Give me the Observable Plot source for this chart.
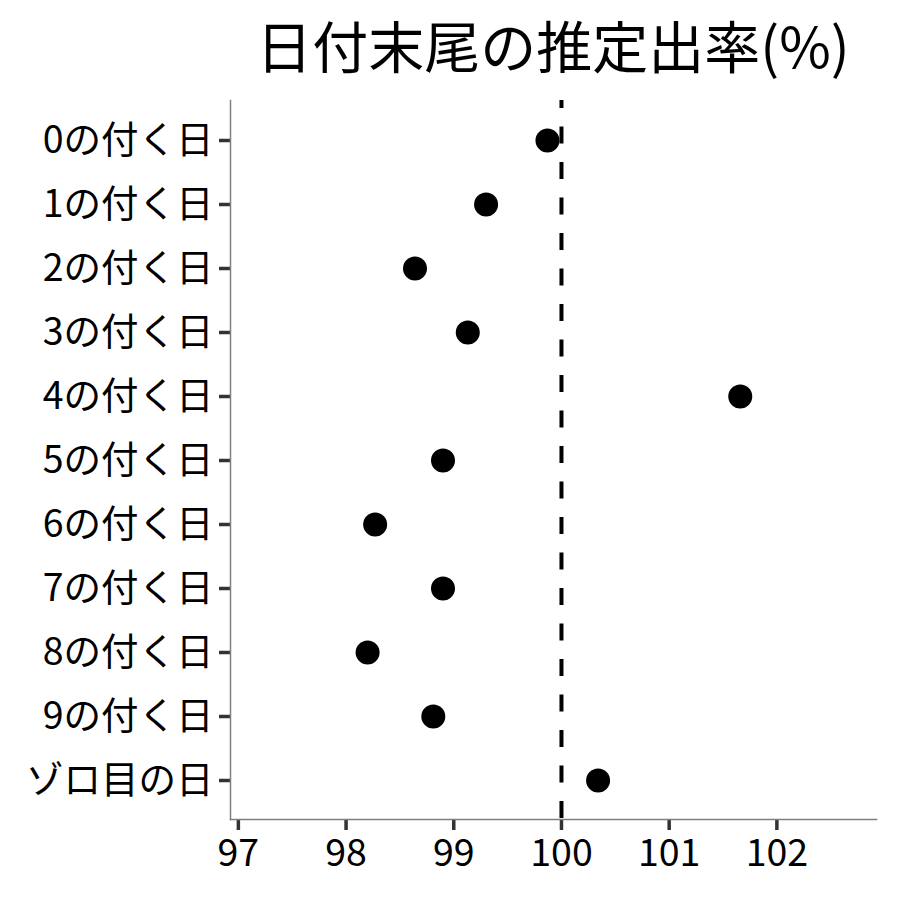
<!DOCTYPE html>
<html>
<head>
<meta charset="utf-8">
<script src="https://cdn.jsdelivr.net/npm/d3@7"></script>
<script src="https://cdn.jsdelivr.net/npm/@observablehq/plot@0.6"></script>
<style>
  html, body { margin: 0; padding: 0; background: #fff; }
  #wrap { width: 900px; height: 900px; position: relative; font-family: "Noto Sans CJK JP", sans-serif; }
  #title { position: absolute; left: 230px; width: 646px; top: 0; height: 90px; text-align: center;
           font-size: 56px; line-height: 88px; color: #000; white-space: nowrap; }
  #chart { position: absolute; left: 0; top: 90px; }
</style>
</head>
<body>
<div id="wrap">
  <div id="title">日付末尾の推定出率(%)</div>
  <div id="chart"></div>
</div>
<script>
const categories = ["0の付く日","1の付く日","2の付く日","3の付く日","4の付く日","5の付く日","6の付く日","7の付く日","8の付く日","9の付く日","ゾロ目の日"];
const rates = [99.87, 99.30, 98.64, 99.13, 101.66, 98.90, 98.27, 98.90, 98.20, 98.81, 100.34];
const xTicks = [97, 98, 99, 100, 101, 102];
const xDomain = [96.927, 102.925];
const reference = 100;

const data = categories.map((c, i) => ({category: c, rate: rates[i]}));

const chart = Plot.plot({
  width: 900,
  height: 810,
  marginTop: 10,
  marginBottom: 81,
  marginLeft: 230,
  marginRight: 24,
  style: {fontFamily: "'Noto Sans CJK JP', sans-serif", background: "#fff", color: "#000"},
  x: {domain: xDomain, ticks: xTicks},
  y: {type: "point", domain: categories, padding: 0.6},
  marks: [
    Plot.axisX({ticks: xTicks, tickFormat: d => String(d), tickSize: 11, tickPadding: 9, fontSize: 37.5, stroke: "#333", strokeWidth: 3.5, fill: "#000", label: null}),
    Plot.axisY({tickSize: 11, tickPadding: 6, fontSize: 37.5, stroke: "#333", strokeWidth: 3.5, fill: "#000", label: null}),
    Plot.frame({anchor: "left", stroke: "#7f7f7f", strokeWidth: 1.5}),
    Plot.frame({anchor: "bottom", stroke: "#7f7f7f", strokeWidth: 1.5}),
    Plot.ruleX([reference], {stroke: "#000", strokeWidth: 4, strokeDasharray: "17,18.5", strokeDashoffset: 9}),
    Plot.dot(data, {x: "rate", y: "category", r: 12, fill: "#000", stroke: "none"})
  ]
});
document.getElementById("chart").appendChild(chart);
</script>
</body>
</html>
